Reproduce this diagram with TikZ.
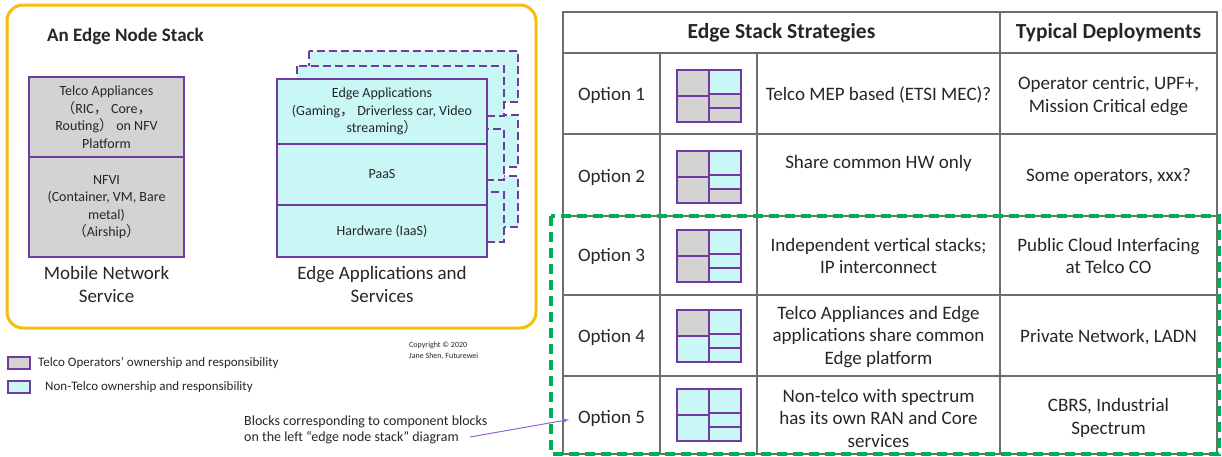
\documentclass[tikz,border=0pt]{standalone}
\usepackage{fontspec}
\setmainfont{Carlito}
\newfontfamily\cjkfont{Noto Sans CJK SC}
\usetikzlibrary{arrows,positioning}
\definecolor{stackpurple}{RGB}{112,58,160}
\definecolor{telcogray}{RGB}{211,211,211}
\definecolor{edgecyan}{RGB}{200,247,245}
\definecolor{boxorange}{RGB}{250,188,10}
\definecolor{optgreen}{RGB}{0,176,80}
\definecolor{gridgray}{RGB}{110,110,110}
\definecolor{notepurple}{RGB}{150,100,210}
\definecolor{ink}{RGB}{38,38,38}
\newcommand{\fsize}[2]{\fontsize{#1}{#2}\selectfont}
\newcommand{\zw}[1]{{\cjkfont #1}}

\begin{document}
\begin{tikzpicture}[x=1pt,y=-1pt,text=ink,
  layerbox/.style={draw=stackpurple,line width=2.8pt,inner sep=0pt,align=center,font=\fsize{14}{17.5}},
  ghost/.style={draw=stackpurple,line width=2.6pt,dash pattern=on 8pt off 4pt,fill=edgecyan},
  iconcell/.style={draw=stackpurple,line width=2.3pt},
  cell/.style={inner sep=0pt,align=center,font=\fsize{19}{22.5}},
  head/.style={inner sep=0pt,font=\bfseries\fsize{21.5}{24}},
  caption/.style={inner sep=0pt,align=center,font=\fsize{19}{23}},
  keybox/.style={draw=stackpurple,line width=2.4pt,minimum width=22pt,minimum height=12pt,inner sep=0pt},
  keytext/.style={anchor=west,inner sep=0pt,font=\fsize{13}{15}}]
\useasboundingbox (0,0) rectangle (1222,456);

% left panel
\draw[boxorange,line width=3pt,rounded corners=16pt] (7,5) rectangle (536,328);
\node[anchor=west,inner sep=0pt,font=\bfseries\fsize{19}{22}] (title) at (47,36) {An Edge Node Stack};

\node[layerbox,fill=telcogray,minimum width=155pt,minimum height=80pt] (tapp) at (106.5,117)
  {Telco Appliances\\\zw{（}RIC\zw{，} Core\zw{，}\\Routing\zw{）} on NFV\\Platform};
\node[layerbox,fill=telcogray,minimum width=155pt,minimum height=100pt] (nfvi) at (106.5,207)
  {NFVI\\(Container, VM, Bare\\metal)\\\zw{（}Airship\zw{）}};
\node[caption] (mobile) at (106.5,284.5) {Mobile Network\\Service};

% shadow stacks behind the edge stack
\draw[ghost] (309,51) rectangle (518,102) (309,115) rectangle (518,167) (309,176) rectangle (518,227);
\draw[ghost] (297,66) rectangle (504,116) (297,129) rectangle (504,180) (297,192) rectangle (504,242);

\node[layerbox,fill=edgecyan,minimum width=210pt,minimum height=65pt] (apps) at (382,111.5)
  {Edge Applications\\(Gaming\zw{，} Driverless car, Video\\streaming\zw{）}};
\node[layerbox,fill=edgecyan,minimum width=210pt,minimum height=61pt] (paas) at (382,174.5) {PaaS};
\node[layerbox,fill=edgecyan,minimum width=210pt,minimum height=52pt] (hw) at (382,231) {Hardware (IaaS)};
\node[caption] (edgecap) at (382,284.5) {Edge Applications and\\Services};

% legend and notes
\node[keybox,fill=telcogray] (keytelco) at (19,363) {};
\node[keytext] (keytelcotext) at (38,363) {Telco Operators’ ownership and responsibility};
\node[keybox,fill=edgecyan] (keyedge) at (19,387) {};
\node[keytext] (keyedgetext) at (45,387) {Non-Telco ownership and responsibility};
\node[anchor=west,inner sep=0pt,align=left,font=\fsize{8}{11}] (copy) at (409,350.5) {Copyright © 2020\\Jane Shen, Futurewei};
\node[anchor=west,inner sep=0pt,align=left,font=\fsize{14}{16.5}] (note) at (244,430)
  {Blocks corresponding to component blocks\\on the left “edge node stack” diagram};

% table grid
\draw[gridgray,line width=1.3pt] (563,12) rectangle (1217,454)
  (563,53) -- (1217,53) (563,134) -- (1217,134) (563,216) -- (1217,216)
  (563,295) -- (1217,295) (563,376) -- (1217,376)
  (1000,12) -- (1000,454) (660,53) -- (660,454) (757,53) -- (757,454);

% icons
\draw[iconcell,fill=telcogray]
  (677,70) rectangle (709,96) (677,96) rectangle (709,122) (709,94) rectangle (741,108) (709,108) rectangle (741,122)
  (677,151) rectangle (709,177) (677,177) rectangle (709,203) (709,189) rectangle (741,203)
  (677,230) rectangle (709,256) (677,256) rectangle (709,282)
  (677,310) rectangle (709,336);
\draw[iconcell,fill=edgecyan]
  (709,70) rectangle (741,94)
  (709,151) rectangle (741,175) (709,175) rectangle (741,189)
  (709,230) rectangle (741,254) (709,254) rectangle (741,268) (709,268) rectangle (741,282)
  (677,336) rectangle (709,362) (709,310) rectangle (741,334) (709,334) rectangle (741,348) (709,348) rectangle (741,362)
  (677,389) rectangle (709,415) (677,415) rectangle (709,441) (709,389) rectangle (741,413) (709,413) rectangle (741,427) (709,427) rectangle (741,441);

% table text
\node[head] (hstrat) at (781.5,32.5) {Edge Stack Strategies};
\node[head] (hdep) at (1108.5,32.5) {Typical Deployments};
\node[cell] (opt1) at (611.5,95) {Option 1};
\node[cell] (opt2) at (611.5,177) {Option 2};
\node[cell] (opt3) at (611.5,256) {Option 3};
\node[cell] (opt4) at (611.5,337) {Option 4};
\node[cell] (opt5) at (611.5,418) {Option 5};
\node[cell] (strat1) at (878.5,95) {Telco MEP based (ETSI MEC)?};
\node[cell] (strat2) at (878.5,163) {Share common HW only};
\node[cell] (strat3) at (878.5,256) {Independent vertical stacks;\\IP interconnect};
\node[cell] (strat4) at (878.5,337) {Telco Appliances and Edge\\applications share common\\Edge platform};
\node[cell] (strat5) at (878.5,418) {Non-telco with spectrum\\has its own RAN and Core\\services};
\node[cell] (dep1) at (1108.5,96) {Operator centric, UPF+,\\Mission Critical edge};
\node[cell] (dep2) at (1108.5,177) {Some operators, xxx?};
\node[cell] (dep3) at (1108.5,256) {Public Cloud Interfacing\\at Telco CO};
\node[cell] (dep4) at (1108.5,337) {Private Network, LADN};
\node[cell] (dep5) at (1108.5,418) {CBRS, Industrial\\Spectrum};

% highlight of options 3-5
\draw[optgreen,line width=3.5pt,dash pattern=on 10pt off 6pt] (551,216) rectangle (1219,454);

\coordinate (notetail) at (470,437);
\draw[notepurple,line width=1pt,-latex,shorten >=9pt] (notetail) -- (opt5.west);
\end{tikzpicture}
\end{document}
